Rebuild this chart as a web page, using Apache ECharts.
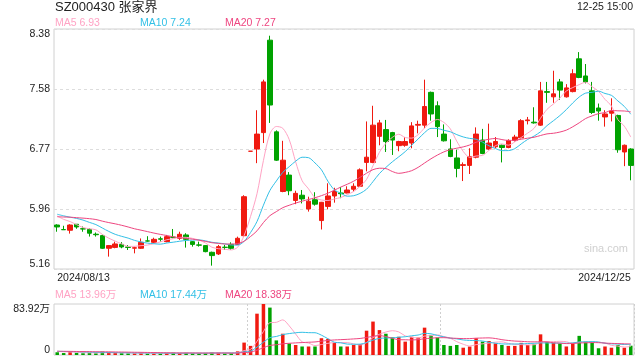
<!DOCTYPE html>
<html><head><meta charset="utf-8">
<script src="https://cdn.jsdelivr.net/npm/echarts@6/dist/echarts.min.js"></script>
<style>html,body{margin:0;padding:0;background:#fff}#c{width:640px;height:360px}</style>
</head><body><div id="c"></div>
<script>
const dates = [
 '2024-08-13','2024-08-14','2024-08-15','2024-08-16','2024-08-19','2024-08-20','2024-08-21','2024-08-22','2024-08-23','2024-08-26','2024-08-27','2024-08-28','2024-08-29','2024-08-30',
 '2024-09-02','2024-09-03','2024-09-04','2024-09-05','2024-09-06','2024-09-09','2024-09-10','2024-09-11','2024-09-12','2024-09-13','2024-09-18','2024-09-19','2024-09-20','2024-09-23','2024-09-24','2024-09-25','2024-09-26','2024-09-27','2024-09-30',
 '2024-10-08','2024-10-09','2024-10-10','2024-10-11','2024-10-14','2024-10-15','2024-10-16','2024-10-17','2024-10-18','2024-10-21','2024-10-22','2024-10-23','2024-10-24','2024-10-25','2024-10-28','2024-10-29','2024-10-30','2024-10-31',
 '2024-11-01','2024-11-04','2024-11-05','2024-11-06','2024-11-07','2024-11-08','2024-11-11','2024-11-12','2024-11-13','2024-11-14','2024-11-15','2024-11-18','2024-11-19','2024-11-20','2024-11-21','2024-11-22','2024-11-25','2024-11-26','2024-11-27','2024-11-28','2024-11-29',
 '2024-12-02','2024-12-03','2024-12-04','2024-12-05','2024-12-06','2024-12-09','2024-12-10','2024-12-11','2024-12-12','2024-12-13','2024-12-16','2024-12-17','2024-12-18','2024-12-19','2024-12-20','2024-12-23','2024-12-24','2024-12-25'];

const opens = [5.75,5.689,5.68,5.76,5.70,5.69,5.627,5.608,5.438,5.45,5.49,5.456,5.44,5.438,5.537,5.518,5.565,5.527,5.587,5.572,5.617,5.527,5.483,5.474,5.384,5.362,5.452,5.49,5.49,5.607,
 6.74,6.77,6.99,8.23,7.00,6.20,6.42,6.08,6.15,5.965,6.09,5.81,6.00,6.14,6.18,6.18,6.23,6.27,6.59,6.59,
 6.94,7.03,6.99,6.815,6.82,6.85,7.09,7.09,7.53,7.35,6.97,6.77,6.65,6.55,6.55,6.66,6.89,6.77,6.80,6.82,
 6.79,6.885,6.92,7.15,7.13,7.09,7.54,7.47,7.67,7.47,7.54,7.98,7.75,7.55,7.32,7.20,7.25,7.22,6.73,6.77];
const closes = [5.724,5.687,5.75,5.724,5.697,5.64,5.62,5.438,5.474,5.496,5.456,5.45,5.445,5.518,5.535,5.558,5.56,5.594,5.585,5.626,5.558,5.49,5.48,5.393,5.34,5.46,5.45,5.438,5.572,6.13,
 6.74,6.97,7.67,7.36,6.62,6.62,6.21,6.175,6.10,6.07,6.03,6.055,6.14,6.20,6.17,6.22,6.27,6.49,6.66,7.09,
 7.12,6.87,6.89,6.87,6.87,7.08,7.10,7.34,7.24,7.07,6.88,6.67,6.51,6.56,6.67,6.97,6.71,6.85,6.87,6.79,
 6.885,6.93,7.15,7.16,7.12,7.55,7.53,7.51,7.56,7.59,7.78,7.73,7.67,7.26,7.28,7.24,7.28,6.76,6.82,6.55];
const lows = [5.66,5.687,5.635,5.70,5.66,5.595,5.595,5.43,5.326,5.438,5.438,5.415,5.37,5.43,5.527,5.505,5.527,5.518,5.572,5.55,5.447,5.46,5.46,5.384,5.205,5.348,5.415,5.415,5.483,5.59,
 6.74,6.58,6.85,7.12,6.61,6.19,6.15,6.03,6.04,5.93,6.01,5.69,5.96,6.05,6.11,6.175,6.20,6.26,6.47,6.58,
 6.82,6.73,6.69,6.74,6.80,6.78,6.98,7.05,7.15,6.93,6.87,6.66,6.39,6.34,6.435,6.645,6.70,6.76,6.78,6.59,
 6.78,6.87,6.91,7.10,7.11,7.08,7.39,7.39,7.43,7.46,7.53,7.72,7.65,7.24,7.15,7.07,7.14,6.72,6.54,6.35];
const highs = [5.76,5.74,5.76,5.76,5.73,5.706,5.65,5.62,5.48,5.527,5.52,5.482,5.46,5.57,5.60,5.58,5.594,5.617,5.697,5.66,5.64,5.536,5.527,5.48,5.393,5.483,5.483,5.518,5.594,6.15,
 6.74,7.29,7.70,8.29,7.02,6.88,6.46,6.21,6.22,6.13,6.19,6.06,6.31,6.25,6.26,6.27,6.31,6.51,7.14,7.35,
 7.16,7.16,7.00,6.88,6.93,7.13,7.15,7.70,7.54,7.41,7.10,6.90,6.76,6.59,6.78,7.06,7.04,7.11,6.93,6.83,
 6.90,6.96,7.17,7.20,7.33,7.67,7.67,7.82,7.71,7.64,7.84,8.07,7.91,7.67,7.38,7.29,7.45,7.23,6.83,6.78];
// volume in 万
const volumes = [4.5,3.2,4.8,3.5,3.0,3.6,2.8,5.5,4.0,3.2,3.0,2.6,2.8,3.5,2.5,2.8,2.6,3.2,3.8,3.0,3.6,2.8,2.5,3.4,4.2,3.8,2.6,3.0,6.0,20.4,
 15,68,83.92,78,24,35,19,16.5,14,14,14,27.6,26.5,20,14,14,16.5,18,40,55,
 41,35,29,30,22,30,28.7,45,33,28.7,16.5,15,16.5,12,14,27.6,22,23,19,16.5,
 15,15,20,16.5,17.7,34,22,20,19,14,20,31.5,22,20,11.1,14,12,16.5,12,15.3];
// closes / volumes before the first visible day (estimated from the MA lines)
const priorCloses = [5.78,5.80,5.85,5.82,5.79,5.84,5.88,5.86,5.83,5.85,5.90,5.93,5.89,5.92,5.95,5.91,5.90,5.93,5.89];
const priorVolumes = [5.8,6.5,7.2,5.6,6.1,6.8,5.9,6.3,7.0,5.5,6.2,6.6,5.9,6.4,6.0,6.7,6.2,6.5,6.1];

const yTickLabels = ['5.16','5.96','6.77','7.58','8.38'];
const volTickLabels = ['0','83.92万'];
const priceLegend = ['MA5 6.93','MA10 7.24','MA20 7.27'];
const volLegend = ['MA5 13.96万','MA10 17.44万','MA20 18.38万'];
const titleText = 'SZ000430 张家界';
const timeText = '12-25 15:00';

const UP = '#f01a10', DOWN = '#00a200';
const MA_COLORS = ['#ffa3c4', '#33c0e6', '#ee4680'];
const FONT = '"Liberation Sans", Arial, "Noto Sans CJK SC", sans-serif';

function ma(n, prior, arr) {
  const all = prior.concat(arr); const out = [];
  for (let i = 0; i < arr.length; i++) {
    const end = prior.length + i; let s = 0;
    for (let k = end - n + 1; k <= end; k++) s += all[k];
    out.push(+(s / n).toFixed(4));
  }
  return out;
}
const kData = dates.map((d, i) => [opens[i], closes[i], lows[i], highs[i]]);
const volData = volumes.map((v, i) => {
  let up = closes[i] > opens[i] || (closes[i] === opens[i] && (i === 0 || closes[i] >= closes[i - 1]));
  return { value: v, itemStyle: { color: up ? UP : DOWN } };
});
const pMA = [5, 10, 20].map(n => ma(n, priorCloses, closes));
const vMA = [5, 10, 20].map(n => ma(n, priorVolumes, volumes));

const GL = 54, GW = 580;
const chart = echarts.init(document.getElementById('c'), null, { renderer: 'canvas' });
const legendX = [55, 140, 225];
const graphics = [
  { type: 'text', left: 55, top: 1, style: { text: titleText, font: '13px ' + FONT, fill: '#222' } },
  { type: 'text', right: 7, top: 2, style: { text: timeText, font: '10.5px ' + FONT, fill: '#222' } },
  { type: 'text', right: 12, top: 243, style: { text: 'sina.com', font: '11px ' + FONT, fill: '#d0d0d0' } }
];
priceLegend.forEach((t, i) => graphics.push({ type: 'text', left: legendX[i], top: 18, style: { text: t, font: '10.5px ' + FONT, fill: MA_COLORS[i] } }));
volLegend.forEach((t, i) => graphics.push({ type: 'text', left: legendX[i], top: 290, style: { text: t, font: '10.5px ' + FONT, fill: MA_COLORS[i] } }));

const option = {
  animation: false,
  backgroundColor: '#fff',
  textStyle: { fontFamily: FONT },
  graphic: graphics,
  grid: [
    { left: GL, top: 29, width: GW, height: 240, show: true, borderColor: '#d0d0d0', borderWidth: 1 },
    { left: GL, top: 304, width: GW, height: 51, show: true, borderColor: '#d0d0d0', borderWidth: 1 }
  ],
  xAxis: [
    { type: 'category', gridIndex: 0, data: dates, boundaryGap: true,
      axisLine: { show: false }, axisTick: { show: false }, splitLine: { show: false },
      axisLabel: { interval: 0, margin: 4, fontSize: 10.5, color: '#222', fontFamily: FONT,
        alignMinLabel: 'left', alignMaxLabel: 'right',
        formatter: (v, i) => (i === 0 || i === dates.length - 1) ? v.replace(/-/g, '/') : '' } },
    { type: 'category', gridIndex: 1, data: dates, boundaryGap: true,
      axisLine: { show: false }, axisTick: { show: false }, axisLabel: { show: false },
      splitLine: { show: true, interval: (i) => i === 30 || i === 60, lineStyle: { color: '#cfcfcf', type: [2, 2], width: 1 } } }
  ],
  yAxis: [
    { type: 'value', gridIndex: 0, min: 5.16, max: 8.38, interval: 0.805,
      axisLine: { show: false }, axisTick: { show: false },
      splitLine: { show: true, lineStyle: { color: '#dddddd', type: [3, 3], width: 1 } },
      axisLabel: { margin: 4, fontSize: 10.5, color: '#222', fontFamily: FONT,
        verticalAlignMinLabel: 'bottom', verticalAlignMaxLabel: 'top',
        formatter: v => yTickLabels[Math.round((v - 5.16) / 0.805)] } },
    { type: 'value', gridIndex: 1, min: 0, max: 83.92, interval: 83.92,
      axisLine: { show: false }, axisTick: { show: false }, splitLine: { show: false },
      axisLabel: { margin: 4, fontSize: 10.5, color: '#222', fontFamily: FONT,
        verticalAlignMinLabel: 'bottom', verticalAlignMaxLabel: 'top',
        formatter: v => v === 0 ? volTickLabels[0] : volTickLabels[1] } }
  ],
  series: [
    { type: 'candlestick', xAxisIndex: 0, yAxisIndex: 0, data: kData, barWidth: 5,
      itemStyle: { color: UP, color0: DOWN, borderColor: UP, borderColor0: DOWN, borderWidth: 1 } },
    ...pMA.map((d, i) => ({ type: 'line', xAxisIndex: 0, yAxisIndex: 0, data: d, symbol: 'none', smooth: 0.3,
      lineStyle: { color: MA_COLORS[i], width: 1 }, z: 3 })),
    { type: 'bar', xAxisIndex: 1, yAxisIndex: 1, data: volData, barWidth: 3.5 },
    ...vMA.map((d, i) => ({ type: 'line', xAxisIndex: 1, yAxisIndex: 1, data: d, symbol: 'none', smooth: 0.3,
      lineStyle: { color: MA_COLORS[i], width: 1 }, z: 3 }))
  ]
};
chart.setOption(option);
</script>
</body></html>
